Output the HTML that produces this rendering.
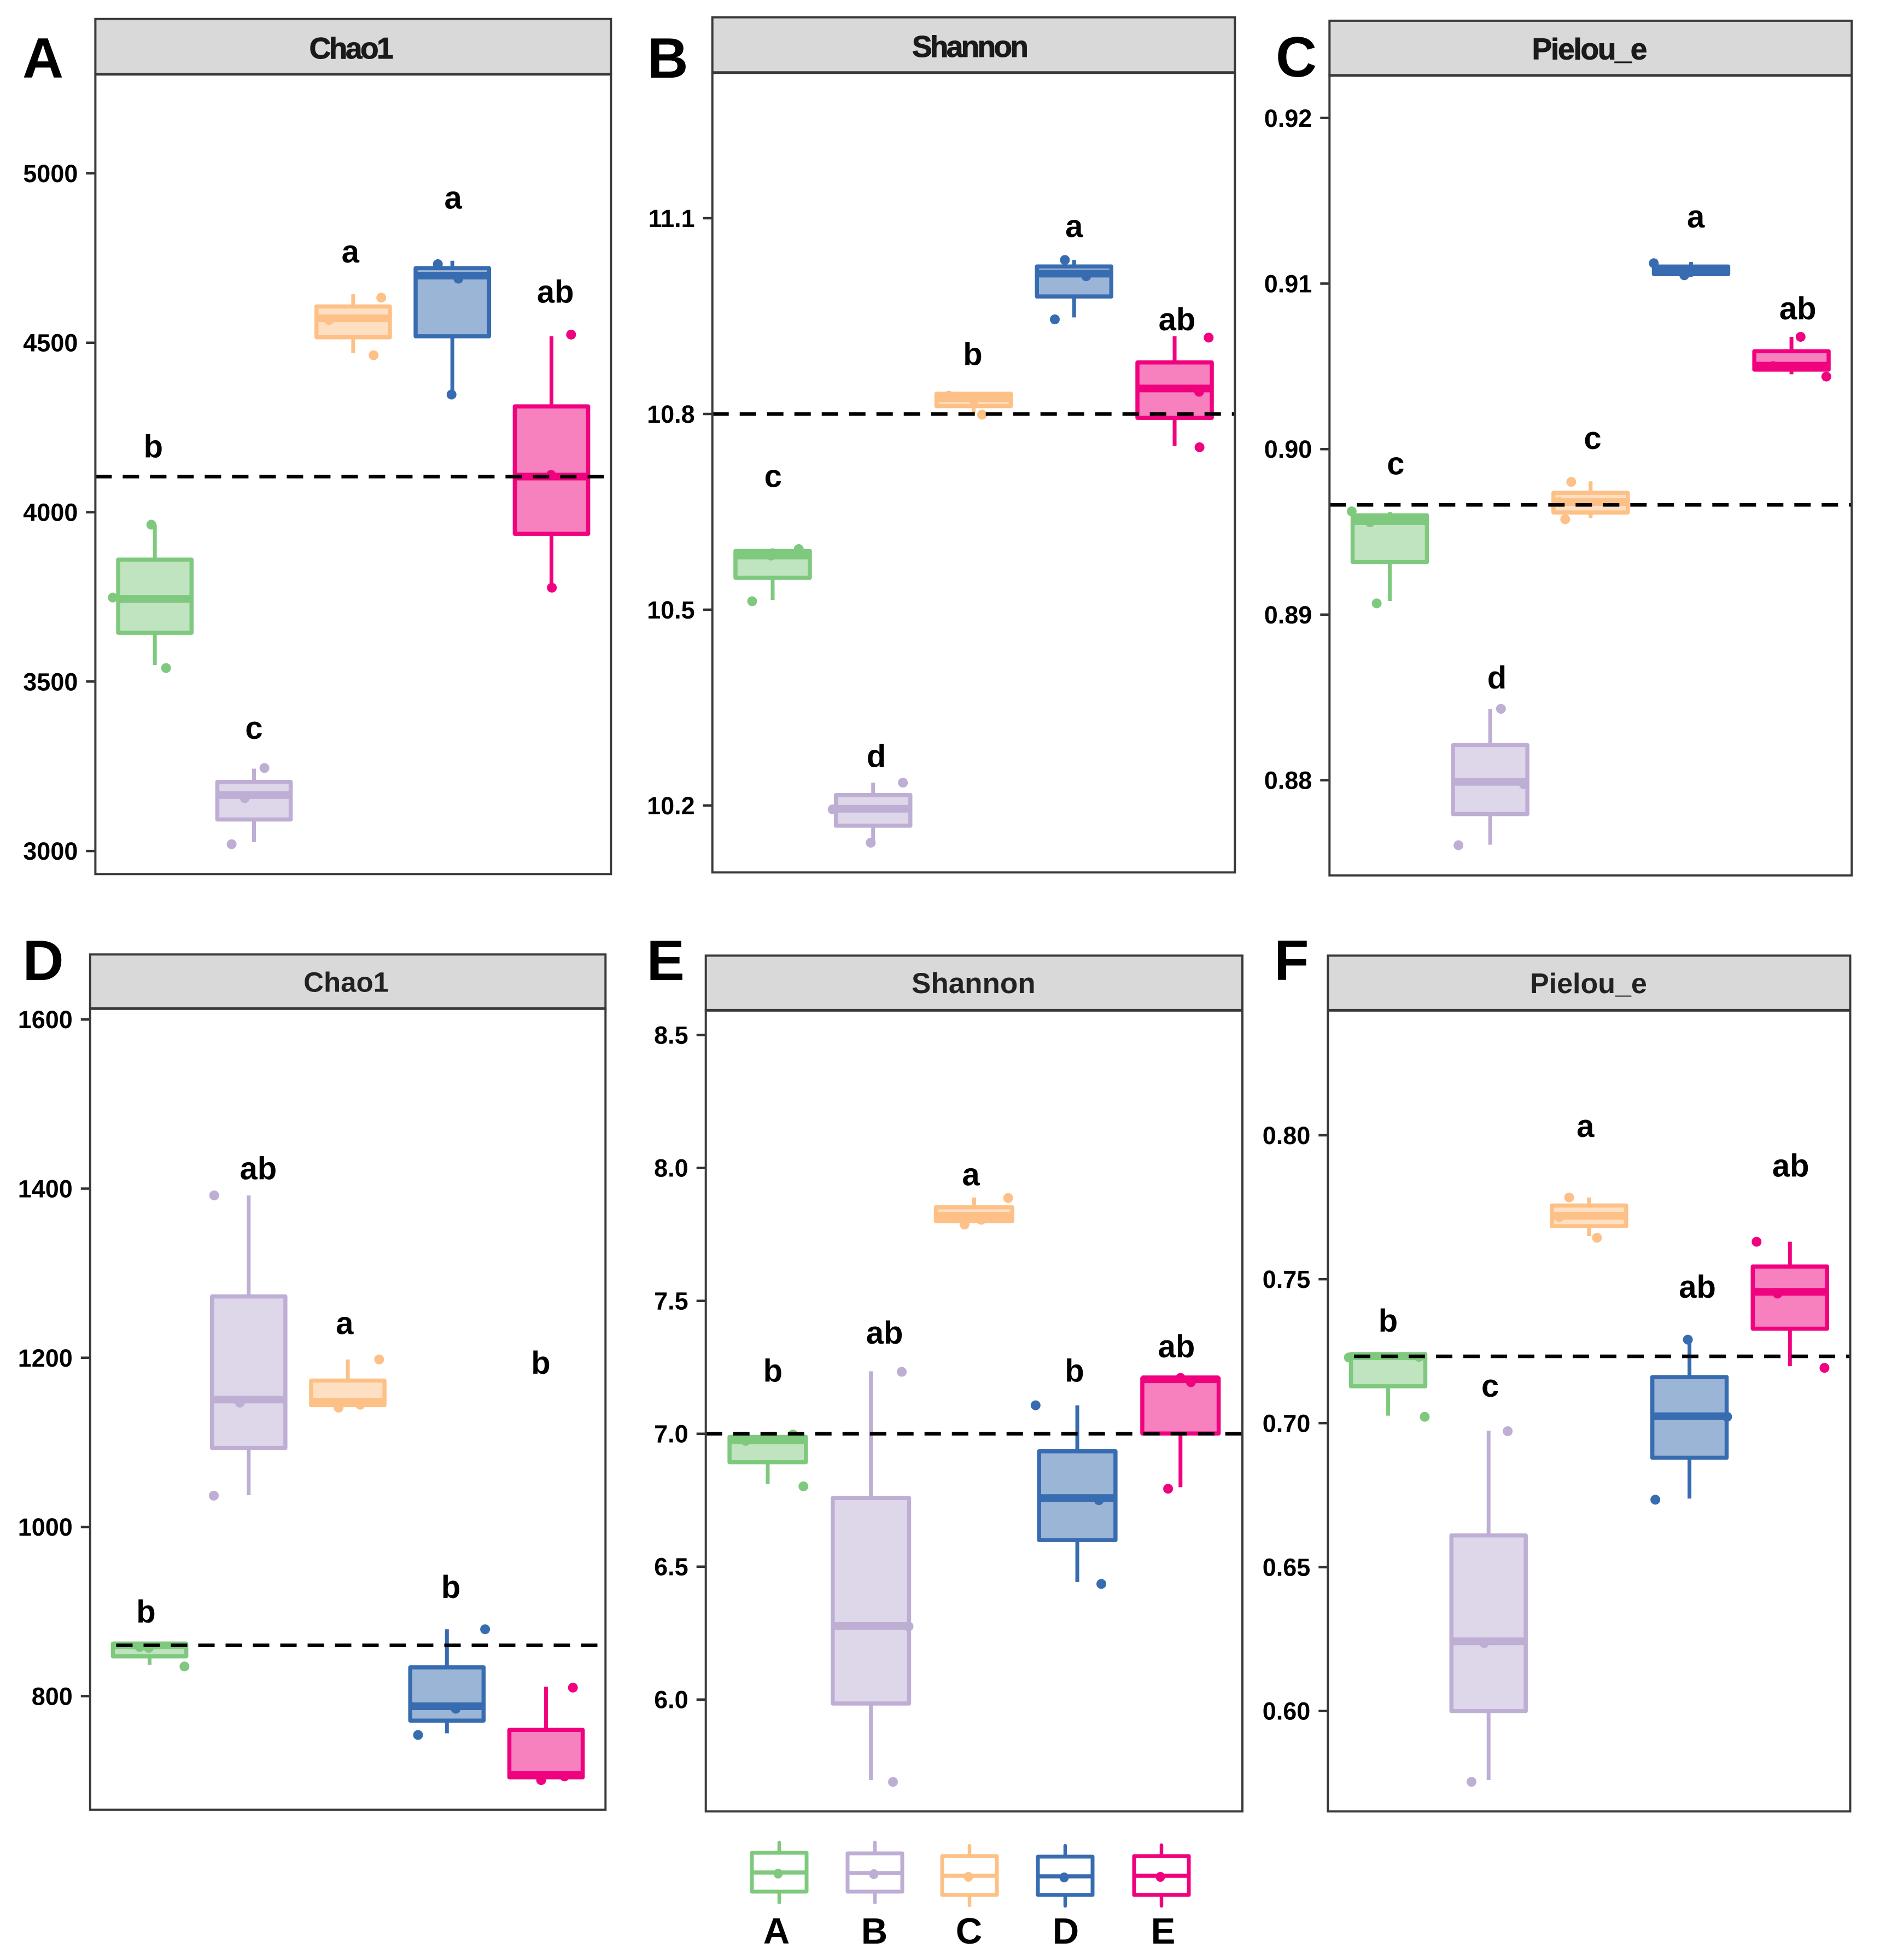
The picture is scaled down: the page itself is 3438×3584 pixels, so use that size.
<!DOCTYPE html>
<html lang="en">
<head>
<meta charset="utf-8">
<title>Alpha diversity box plots</title>
<style>
html,body{margin:0;padding:0;background:#fff;}
svg{display:block;font-family:"Liberation Sans",Arial,sans-serif;}
</style>
</head>
<body>
<svg id="figure" xmlns="http://www.w3.org/2000/svg" width="3438" height="3584" viewBox="0 0 3438 3584"></svg>
<script>
// ---------- shared categories ----------
const categories = ['A','B','C','D','E'];
const categoryColors = ['#7fc97f','#beaed4','#fdc086','#386cb0','#f0027f'];

// ---------- panel A : Chao1 ----------
const panelA_ticks = [5000,4500,4000,3500,3000];
const panelA_tickLabels = ['5000','4500','4000','3500','3000'];
const panelA_high = [3963,3243,4643,4742,4519];
const panelA_q3 = [3860,3204,4607,4720,4312];
const panelA_median = [3744,3165,4572,4698,4105];
const panelA_q1 = [3644,3093,4516,4519,3936];
const panelA_low = [3549,3026,4470,4347,3778];
const panelA_points = [[3963,3748,3540],[3245,3156,3020],[4633,4567,4463],[4732,4689,4347],[4524,4110,3777]];
const panelA_jitter = [[-0.036,-0.424,0.113],[0.105,-0.093,-0.226],[0.283,-0.243,0.206],[-0.146,0.061,-0.008],[0.198,-0.004,0.004]];
const panelA_letters = ['b','c','a','a','ab'];
const panelA_letterValues = [4161,3331,4737,4896,4618];
const panelA_letterShift = [-0.016,0,-0.028,0.008,0.04];
const panelA_reference = 4105;

// ---------- panel B : Shannon ----------
const panelB_ticks = [11.1,10.8,10.5,10.2];
const panelB_tickLabels = ['11.1','10.8','10.5','10.2'];
const panelB_high = [10.594,10.235,10.832,11.036,10.919];
const panelB_q3 = [10.590,10.216,10.831,11.026,10.879];
const panelB_median = [10.583,10.195,10.824,11.015,10.839];
const panelB_q1 = [10.549,10.169,10.812,10.980,10.794];
const panelB_low = [10.515,10.144,10.801,10.948,10.751];
const panelB_points = [[10.593,10.583,10.513],[10.235,10.194,10.143],[10.828,10.799,10.821],[11.036,11.011,10.945],[10.917,10.834,10.749]];
const panelB_jitter = [[0.26,-0.016,-0.204],[0.296,-0.403,-0.024],[-0.248,0.084,0],[-0.092,0.12,-0.192],[0.339,0.244,0.248]];
const panelB_letters = ['c','d','b','a','ab'];
const panelB_letterValues = [10.688,10.259,10.875,11.071,10.928];
const panelB_letterShift = [0.004,0.032,-0.008,0,0.024];
const panelB_reference = 10.80;

// ---------- panel C : Pielou_e ----------
const panelC_ticks = [0.92,0.91,0.90,0.89,0.88];
const panelC_tickLabels = ['0.92','0.91','0.90','0.89','0.88'];
const panelC_high = [0.8962,0.88431,0.89805,0.9113,0.90678];
const panelC_q3 = [0.8960,0.88212,0.89736,0.91103,0.90591];
const panelC_median = [0.89565,0.87990,0.8968,0.91078,0.90504];
const panelC_q1 = [0.89318,0.87795,0.89617,0.91057,0.9048];
const panelC_low = [0.89082,0.87610,0.89583,0.91043,0.90452];
const panelC_points = [[0.89624,0.89558,0.89068],[0.88431,0.87976,0.87607],[0.89802,0.8968,0.89576],[0.91123,0.9105,0.91068],[0.90678,0.90501,0.90438]];
const panelC_jitter = [[-0.379,-0.197,-0.13],[0.107,0.336,-0.316],[-0.193,-0.312,-0.253],[-0.371,-0.067,-0.008],[0.091,-0.182,0.347]];
const panelC_letters = ['c','d','c','a','ab'];
const panelC_letterValues = [0.89847,0.88553,0.9,0.91339,0.90783];
const panelC_letterShift = [0.059,0.067,0.02,0.047,0.063];
const panelC_reference = 0.89663;

// ---------- panel D : Chao1 ----------
const panelD_ticks = [1600,1400,1200,1000,800];
const panelD_tickLabels = ['1600','1400','1200','1000','800'];
const panelD_high = [863,1392,1198,879,811];
const panelD_q3 = [862,1272.5,1173,834,760];
const panelD_median = [860,1150.6,1148,788,707];
const panelD_q1 = [847,1093.4,1144,771,704];
const panelD_low = [837,1037.6,1143,756,702];
const panelD_points = [[858,857,835],[1392,1147,1037],[1198,1141,1144.5],[879,785,754],[810,700.6,705]];
const panelD_jitter = [[-0.101,-0.008,0.352],[-0.348,-0.089,-0.352],[0.316,-0.093,0.126],[0.385,0.089,-0.291],[0.271,-0.049,0.186]];
const panelD_letters = ['b','ab','a','b','b'];
const panelD_letterValues = [887,1411,1228,916,1181];
const panelD_letterShift = [-0.036,0.097,-0.032,0.04,-0.053];
const panelD_reference = 860;

// ---------- panel E : Shannon ----------
const panelE_ticks = [8.5,8.0,7.5,7.0,6.5,6.0];
const panelE_tickLabels = ['8.5','8.0','7.5','7.0','6.5','6.0'];
const panelE_high = [6.990,7.235,7.889,7.107,7.211];
const panelE_q3 = [6.988,6.758,7.852,6.934,7.209];
const panelE_median = [6.975,6.277,7.820,6.758,7.205];
const panelE_q1 = [6.893,5.985,7.800,6.600,7.001];
const panelE_low = [6.810,5.697,7.799,6.442,6.799];
const panelE_points = [[6.997,6.973,6.802],[7.233,6.275,5.690],[7.887,7.787,7.805],[7.107,6.750,6.435],[7.194,6.793,7.21]];
const panelE_jitter = [[0.245,-0.214,0.346],[0.299,0.365,0.214],[0.33,-0.093,0.07],[-0.404,0.21,0.233],[0.101,-0.12,0]];
const panelE_letters = ['b','ab','a','b','ab'];
const panelE_letterValues = [7.196,7.339,7.935,7.196,7.287];
const panelE_letterShift = [0.05,0.132,-0.031,-0.027,-0.039];
const panelE_reference = 7.0;

// ---------- panel F : Pielou_e ----------
const panelF_ticks = [0.80,0.75,0.70,0.65,0.60];
const panelF_tickLabels = ['0.80','0.75','0.70','0.65','0.60'];
const panelF_high = [0.7242,0.6974,0.7784,0.729,0.763];
const panelF_q3 = [0.724,0.661,0.7756,0.716,0.7544];
const panelF_median = [0.7232,0.6242,0.772,0.7024,0.7456];
const panelF_q1 = [0.7128,0.600,0.7684,0.688,0.7328];
const panelF_low = [0.7026,0.576,0.765,0.6738,0.7198];
const panelF_points = [[0.7228,0.7022,0.723],[0.6972,0.6236,0.5754],[0.7784,0.7716,0.7644],[0.729,0.7022,0.6734],[0.763,0.745,0.7192]];
const panelF_jitter = [[-0.391,0.364,0.308],[0.19,-0.043,-0.17],[-0.198,-0.296,0.079],[-0.016,0.375,-0.34],[-0.332,-0.123,0.344]];
const panelF_letters = ['b','c','a','ab','ab'];
const panelF_letterValues = [0.7318,0.7092,0.7994,0.7436,0.7856];
const panelF_letterShift = [0,0.016,-0.036,0.079,0.008];
const panelF_reference = 0.7232;

// ---------- assembled series (references to the arrays above) ----------
const panelSeries = [
 {id:'a',tag:'A',title:'Chao1',ticks:panelA_ticks,tickLabels:panelA_tickLabels,high:panelA_high,q3:panelA_q3,median:panelA_median,q1:panelA_q1,low:panelA_low,points:panelA_points,jitter:panelA_jitter,letters:panelA_letters,letterValues:panelA_letterValues,letterShift:panelA_letterShift,reference:panelA_reference},
 {id:'b',tag:'B',title:'Shannon',ticks:panelB_ticks,tickLabels:panelB_tickLabels,high:panelB_high,q3:panelB_q3,median:panelB_median,q1:panelB_q1,low:panelB_low,points:panelB_points,jitter:panelB_jitter,letters:panelB_letters,letterValues:panelB_letterValues,letterShift:panelB_letterShift,reference:panelB_reference},
 {id:'c',tag:'C',title:'Pielou_e',ticks:panelC_ticks,tickLabels:panelC_tickLabels,high:panelC_high,q3:panelC_q3,median:panelC_median,q1:panelC_q1,low:panelC_low,points:panelC_points,jitter:panelC_jitter,letters:panelC_letters,letterValues:panelC_letterValues,letterShift:panelC_letterShift,reference:panelC_reference},
 {id:'d',tag:'D',title:'Chao1',ticks:panelD_ticks,tickLabels:panelD_tickLabels,high:panelD_high,q3:panelD_q3,median:panelD_median,q1:panelD_q1,low:panelD_low,points:panelD_points,jitter:panelD_jitter,letters:panelD_letters,letterValues:panelD_letterValues,letterShift:panelD_letterShift,reference:panelD_reference},
 {id:'e',tag:'E',title:'Shannon',ticks:panelE_ticks,tickLabels:panelE_tickLabels,high:panelE_high,q3:panelE_q3,median:panelE_median,q1:panelE_q1,low:panelE_low,points:panelE_points,jitter:panelE_jitter,letters:panelE_letters,letterValues:panelE_letterValues,letterShift:panelE_letterShift,reference:panelE_reference},
 {id:'f',tag:'F',title:'Pielou_e',ticks:panelF_ticks,tickLabels:panelF_tickLabels,high:panelF_high,q3:panelF_q3,median:panelF_median,q1:panelF_q1,low:panelF_low,points:panelF_points,jitter:panelF_jitter,letters:panelF_letters,letterValues:panelF_letterValues,letterShift:panelF_letterShift,reference:panelF_reference}
];

// ---------- layout (pixel geometry, kept apart from the data) ----------
const panelLayout = {
 a:{l:174.4,r:1117.3,t:34.7,s:135.8,b:1598.3,ax:[5000,316.9,3000,1556.1],hx:[174.4,1117.3],tx:41,ty:142,size:55,ls:-3.5,sc:'#1a1a1a',tdx:-5,tty:107,sw:1},
 b:{l:1302.7,r:2258.3,t:31.6,s:132.7,b:1595.3,ax:[11.1,399,10.2,1472.9],hx:[1302.7,2260],tx:1183.5,ty:142,size:55,ls:-3.7,sc:'#1a1a1a',tdx:-8,tty:104,sw:1},
 c:{l:2431.3,r:3386.3,t:37.9,s:137.9,b:1600.7,ax:[0.92,215.8,0.88,1426.6],hx:[2431.3,3386.3],tx:2333,ty:140,size:55,ls:-2.2,sc:'#1a1a1a',tdx:-3,tty:108.5,sw:1},
 d:{l:164.8,r:1107.3,t:1745.3,s:1844.2,b:3309.3,ax:[1600,1864.2,800,3101.4],hx:[212.5,1096],tx:41.5,ty:1792,size:51,ls:0,sc:'#222',tdx:-3,tty:1813.7,sw:0},
 e:{l:1290.7,r:2272,t:1747.4,s:1847.4,b:3312.3,ax:[8.5,1892.7,6.0,3107.7],hx:[1290.7,2272],tx:1182.5,ty:1792,size:53,ls:0,sc:'#222',tdx:-1,tty:1815.8,sw:0},
 f:{l:2428.3,r:3383.5,t:1747.4,s:1847.4,b:3312.3,ax:[0.80,2075.9,0.60,3128.7],hx:[2476,3383.5],tx:2330,ty:1792,size:52,ls:0,sc:'#222',tdx:-1,tty:1815.8,sw:0}
};
const legendKeyLayout = [
 {x:1375,t:3388,b:3459,wt:3369,wb:3479,m:3424,tx:1420},
 {x:1550,t:3389,b:3459,wt:3369,wb:3479,m:3425,tx:1599},
 {x:1723,t:3394,b:3465,wt:3375,wb:3484,m:3430,tx:1772},
 {x:1898,t:3395,b:3465,wt:3375,wb:3485,m:3431,tx:1949},
 {x:2074,t:3394,b:3465,wt:3374,wb:3485,m:3430,tx:2127}
];

const SVGNS = 'http://www.w3.org/2000/svg';
const figure = document.getElementById('figure');
function make(tag, attrs, parent){
  const node = document.createElementNS(SVGNS, tag);
  for (const k in attrs) node.setAttribute(k, attrs[k]);
  parent.appendChild(node);
  return node;
}
function makeY(ax){
  const k = (ax[3]-ax[1])/(ax[2]-ax[0]);
  return v => ax[1] + (v-ax[0])*k;
}
function makeX(lay){
  const unit = (lay.r-lay.l)/5.2;
  return u => lay.l + (u+0.6)*unit;
}

const bg = make('rect',{x:0,y:0,width:3438,height:3584,fill:'#ffffff'},figure);



panelSeries.forEach(series => {
  const lay = panelLayout[series.id];
  const y = makeY(lay.ax);
  const x = makeX(lay);
  const boxWidth = 0.74;

  const g = make('g',{},figure);
  
  

  const plate = make('rect',{x:lay.l,y:lay.s,width:lay.r-lay.l,height:lay.b-lay.s,fill:'#ffffff'},g);
  
  

  const strip = make('rect',{x:lay.l,y:lay.t,width:lay.r-lay.l,height:lay.s-lay.t,fill:'#d9d9d9',stroke:'#3a3a3a','stroke-width':4},g);
  
  

  const title = make('text',{x:(lay.l+lay.r)/2+lay.tdx,y:lay.tty,'text-anchor':'middle','font-size':lay.size,'font-weight':'bold',fill:lay.sc,stroke:lay.sc,'stroke-width':lay.sw,'letter-spacing':lay.ls},g);
  title.textContent = series.title;
  
  

  const tag = make('text',{x:lay.tx,y:lay.ty,'font-size':104,'font-weight':'bold',fill:'#000000'},g);
  tag.textContent = series.tag;
  
  

  series.ticks.forEach((t,i) => {
    const tick = make('line',{x1:lay.l-17,x2:lay.l,y1:y(t),y2:y(t),stroke:'#333333','stroke-width':4.5},g);
    
    
    const label = make('text',{x:lay.l-32,y:y(t)+16,'text-anchor':'end','font-size':45,'font-weight':'bold',fill:'#000000'},g);
    label.textContent = series.tickLabels[i];
    
    
  });

  categories.forEach((cat,i) => {
    const color = categoryColors[i];
    const box = make('g',{},g);
    
    

    const wTop = make('line',{x1:x(i),x2:x(i),y1:y(series.high[i]),y2:y(series.q3[i]),stroke:color,'stroke-width':7},box);
    
    
    const wBot = make('line',{x1:x(i),x2:x(i),y1:y(series.q1[i]),y2:y(series.low[i]),stroke:color,'stroke-width':7},box);
    
    

    const half = boxWidth*(lay.r-lay.l)/5.2/2;
    const rect = make('rect',{x:x(i)-half,y:y(series.q3[i]),width:half*2,height:y(series.q1[i])-y(series.q3[i]),fill:color,'fill-opacity':0.5,stroke:color,'stroke-width':7.5,'stroke-linejoin':'round'},box);
    
    

    const med = make('line',{x1:x(i)-half,x2:x(i)+half,y1:y(series.median[i]),y2:y(series.median[i]),stroke:color,'stroke-width':14},box);
    
    

    series.points[i].forEach((p,j) => {
      const dot = make('circle',{cx:x(i+series.jitter[i][j]),cy:y(p),r:9,fill:color},box);
      
      
    });
  });

  const ref = make('line',{x1:lay.hx[0],x2:lay.hx[1],y1:y(series.reference),y2:y(series.reference),stroke:'#000000','stroke-width':6.5,'stroke-dasharray':'30 20'},g);
  
  

  series.letters.forEach((s,i) => {
    const t = make('text',{x:x(i+series.letterShift[i]),y:y(series.letterValues[i]),'text-anchor':'middle','font-size':58,'font-weight':'bold',fill:'#000000'},g);
    t.textContent = s;
    
    
  });

  const frame = make('rect',{x:lay.l,y:lay.s,width:lay.r-lay.l,height:lay.b-lay.s,fill:'none',stroke:'#3a3a3a','stroke-width':4},g);
  
  
  const stripLine = make('line',{x1:lay.l,x2:lay.r,y1:lay.s,y2:lay.s,stroke:'#3a3a3a','stroke-width':5},g);
  
  
});

// ---------- legend ----------
const legend = make('g',{},figure);


categories.forEach((cat,i) => {
  const k = legendKeyLayout[i];
  const color = categoryColors[i];
  const w = 100;
  const entry = make('g',{},legend);
  
  
  const w1 = make('line',{x1:k.x+w/2,x2:k.x+w/2,y1:k.wt,y2:k.t,stroke:color,'stroke-width':6.5,'stroke-linecap':'round'},entry);
  
  
  const w2 = make('line',{x1:k.x+w/2,x2:k.x+w/2,y1:k.b,y2:k.wb,stroke:color,'stroke-width':6.5,'stroke-linecap':'round'},entry);
  
  
  const r = make('rect',{x:k.x,y:k.t,width:w,height:k.b-k.t,fill:'#ffffff',stroke:color,'stroke-width':7,'stroke-linejoin':'round'},entry);
  
  
  const m = make('line',{x1:k.x,x2:k.x+w,y1:k.m,y2:k.m,stroke:color,'stroke-width':7.5},entry);
  
  
  const d = make('ellipse',{cx:k.x+w/2-2,cy:k.m+2,rx:8.5,ry:9,fill:color},entry);
  
  
  const t = make('text',{x:k.tx,y:3554,'text-anchor':'middle','font-size':67,'font-weight':'bold',fill:'#000000'},entry);
  t.textContent = cat;
  
  
});
</script>
</body>
</html>
